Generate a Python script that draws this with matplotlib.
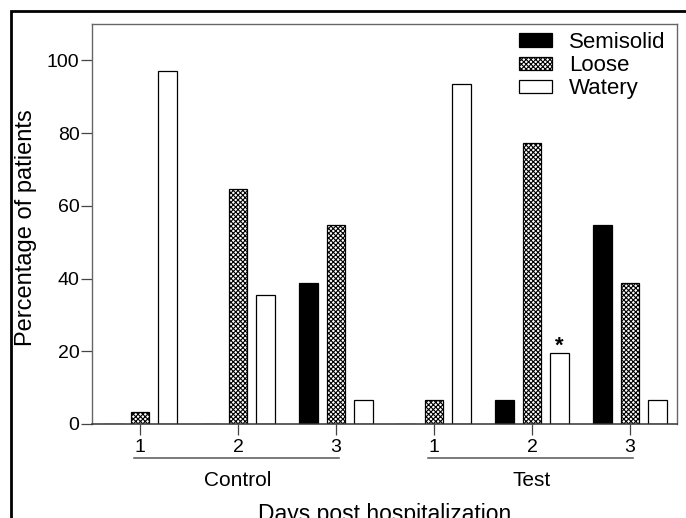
import numpy as np
import matplotlib
matplotlib.use('Agg')
from matplotlib import pyplot as plt
from matplotlib.patches import Rectangle
from matplotlib.lines import Line2D

plt.rcParams['font.family'] = ['Liberation Sans', 'DejaVu Sans']
plt.rcParams['hatch.linewidth'] = 0.8

groups = ['Control', 'Test']
days = ['1', '2', '3', '1', '2', '3']
semisolid = [0, 0, 38.7, 0, 6.5, 54.8]
loose = [3.2, 64.5, 54.8, 6.5, 77.4, 38.7]
watery = [97.0, 35.5, 6.5, 93.5, 19.4, 6.5]
star_idx = 4  # Test day 2 watery

fig = plt.figure(figsize=(6.86, 5.18), dpi=100)
ax = fig.add_axes([92 / 686, 1 - 424 / 518, 585 / 686, 400 / 518])

x = np.arange(len(days))
off = 0.28
w = 0.19
ax.bar(x - off, semisolid, w, color='black', edgecolor='black', linewidth=0.9, label='Semisolid')
ax.bar(x, loose, w, color='white', edgecolor='black', hatch='xxxxxxx', linewidth=0.9, label='Loose')
ax.bar(x + off, watery, w, color='white', edgecolor='black', linewidth=0.9, label='Watery')
ax.text(x[star_idx] + off, watery[star_idx] + 2.0, '*', ha='center', va='center',
        fontsize=16, fontweight='bold')

ax.set_xlim(-0.49, 5.48)
ax.set_ylim(0, 110)
ax.set_yticks([0, 20, 40, 60, 80, 100])
ax.set_xticks(x)
ax.set_xticklabels(days)
ax.tick_params(axis='y', labelsize=14, length=8, width=0.9, direction='out', pad=1,
               color='#444444')
ax.tick_params(axis='x', labelsize=14, length=8, width=0.9, direction='out', pad=3,
               color='#444444')
for s in ['left', 'top', 'right']:
    ax.spines[s].set_color('#666666')
    ax.spines[s].set_linewidth(1.0)
ax.spines['bottom'].set_color('#333333')
ax.spines['bottom'].set_linewidth(1.1)

fig.text(26 / 686, 1 - 228 / 518, 'Percentage of patients', rotation=90,
         ha='center', va='center', fontsize=17)

# group brackets and labels
for g, name in enumerate(groups):
    lo, hi = x[g * 3] - 0.06, x[g * 3 + 2] + 0.03
    ax.add_line(Line2D([lo, hi], [-9.4, -9.4], color='#555555', lw=1.1, clip_on=False))
    ax.text(x[g * 3 + 1], -15.4, name, ha='center', va='center', fontsize=15, clip_on=False)
ax.text(2.5, -21.8, 'Days post hospitalization', ha='center', va='top', fontsize=16.5,
        clip_on=False)

ax.legend(loc='upper right', bbox_to_anchor=(1.0, 1.008), frameon=False, fontsize=16,
          handlelength=1.45, handleheight=0.55, labelspacing=0.1, handletextpad=0.8,
          borderaxespad=0.3, borderpad=0.2)

# outer frame around the figure
fig.patches.append(Rectangle((11 / 686, -0.1), 1.2, 1.1 - 11 / 518, transform=fig.transFigure,
                             fill=False, edgecolor='black', linewidth=2.0))

fig.savefig('out.png', dpi=100)
